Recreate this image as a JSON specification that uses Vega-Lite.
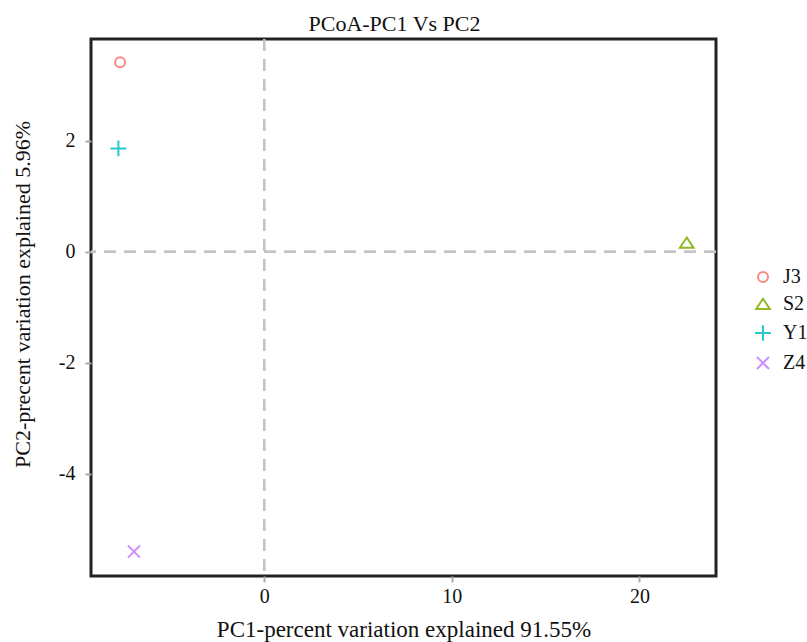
{
  "$schema": "https://vega.github.io/schema/vega-lite/v6.json",
  "width": 625,
  "height": 537,
  "autosize": "none",
  "padding": {"left": 91, "top": 39, "right": 91, "bottom": 66},
  "config": {
    "font": "Liberation Serif",
    "view": {"stroke": "#222222", "strokeWidth": 3}
  },
  "title": {
    "text": "PCoA-PC1 Vs PC2",
    "font": "Liberation Serif",
    "fontSize": 22,
    "fontWeight": "normal",
    "color": "#111111",
    "offset": 2,
    "frame": "group",
    "dx": -9
  },
  "data": {
    "values": [
      {"sample": "J3", "PC1": -7.68, "PC2": 3.41},
      {"sample": "S2", "PC1": 22.52, "PC2": 0.16},
      {"sample": "Y1", "PC1": -7.77, "PC2": 1.86},
      {"sample": "Z4", "PC1": -6.94, "PC2": -5.40}
    ]
  },
  "layer": [
    {
      "mark": {"type": "rule", "color": "#c4c4c4", "strokeWidth": 2, "strokeDash": [12, 8]},
      "encoding": {"x": {"datum": 0, "type": "quantitative"}}
    },
    {
      "mark": {"type": "rule", "color": "#c4c4c4", "strokeWidth": 2, "strokeDash": [12, 8]},
      "encoding": {"y": {"datum": 0, "type": "quantitative"}}
    },
    {
      "mark": {"type": "point", "filled": false, "strokeWidth": 2, "size": 110, "opacity": 0.85},
      "encoding": {
        "x": {
          "field": "PC1",
          "type": "quantitative",
          "scale": {"domain": [-9.23, 24.08], "nice": false, "zero": false},
          "axis": {
            "values": [0, 10, 20], "labelExpr": "datum.value + ''",
            "grid": false, "domain": false, "tickColor": "#aaaaaa", "tickSize": 6, "tickWidth": 2,
            "labelFont": "Liberation Serif", "labelFontSize": 20, "labelColor": "#111111", "labelPadding": 4,
            "title": "PC1-percent variation explained 91.55%", "titleFont": "Liberation Serif", "titleFontSize": 23, "titleFontWeight": "normal", "titleColor": "#111111", "titlePadding": 12
          }
        },
        "y": {
          "field": "PC2",
          "type": "quantitative",
          "scale": {"domain": [-5.84, 3.83], "nice": false, "zero": false},
          "axis": {
            "values": [-4, -2, 0, 2], "labelExpr": "datum.value + ''",
            "grid": false, "domain": false, "tickColor": "#aaaaaa", "tickSize": 6, "tickWidth": 2,
            "labelFont": "Liberation Serif", "labelFontSize": 20, "labelColor": "#111111", "labelPadding": 10,
            "title": "PC2-precent variation explained 5.96%", "titleFont": "Liberation Serif", "titleFontSize": 22, "titleFontWeight": "normal", "titleColor": "#111111", "titlePadding": 24, "titleY": 255
          }
        },
        "color": {
          "field": "sample",
          "type": "nominal",
          "scale": {"domain": ["J3", "S2", "Y1", "Z4"], "range": ["#F8766D", "#7CAE00", "#00BFC4", "#C77CFF"]},
          "legend": {
            "title": null,
            "orient": "none",
            "legendX": 662,
            "legendY": 228,
            "labelFontSize": 20,
            "labelFont": "Liberation Serif",
            "labelColor": "#111111",
            "symbolSize": 110,
            "symbolStrokeWidth": 2,
            "symbolOpacity": 0.85,
            "rowPadding": 7,
            "labelOffset": 10
          }
        },
        "shape": {
          "field": "sample",
          "type": "nominal",
          "scale": {"domain": ["J3", "S2", "Y1", "Z4"], "range": [
            "M-0.95,0A0.95,0.95 0 1,0 0.95,0A0.95,0.95 0 1,0 -0.95,0Z",
            "M0,-1L1.3,0.95L-1.3,0.95Z",
            "M-1.5,0H1.5M0,-1.5V1.5",
            "M-1.15,-1.15L1.15,1.15M-1.15,1.15L1.15,-1.15"
          ]}
        }
      }
    }
  ]
}
